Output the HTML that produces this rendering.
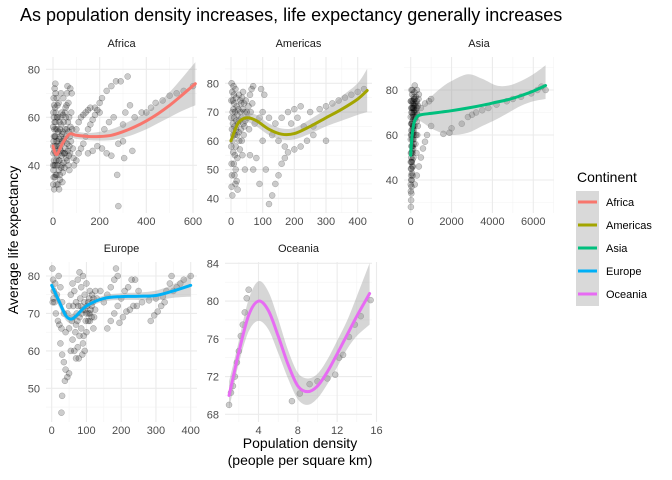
<!DOCTYPE html>
<html><head><meta charset="utf-8"><style>
body{margin:0;background:#fff;}
svg{display:block;font-family:"Liberation Sans",sans-serif;}
</style></head><body>
<svg id="chart" width="672" height="480" viewBox="0 0 672 480">
<text x="20" y="21" font-size="18" fill="#000">As population density increases, life expectancy generally increases</text>
<text transform="translate(18,240) rotate(-90)" text-anchor="middle" font-size="14" fill="#000">Average life expectancy</text>
<text x="300" y="448" text-anchor="middle" font-size="14" fill="#000">Population density</text>
<text x="300" y="465" text-anchor="middle" font-size="14" fill="#000">(people per square km)</text>
<g id="panels"></g>
<g>
<text x="577" y="182" font-size="14" fill="#000">Continent</text>
<rect x="576" y="191" width="23" height="115" fill="#d9d9d9"/>
<g id="legend-entries"></g>
</g>
</svg>
<script>
const continents = ["Africa","Americas","Asia","Europe","Oceania"];
const colors = ["#F8766D","#A3A500","#00BF7D","#00B0F6","#E76BF3"];

const africaPoints = [[5,30],[8,35],[10,40],[12,45],[15,50],[18,55],[20,60],[5,65],[7,72],[10,74],[25,38],[28,42],[30,47],[32,52],[35,57],[38,62],[40,33],[42,37],[45,41],[48,45],[50,50],[52,55],[55,60],[58,65],[60,70],[62,73],[65,40],[68,44],[70,48],[72,52],[75,56],[78,62],[80,70],[3,50],[6,55],[9,48],[14,42],[16,36],[22,32],[26,30],[30,34],[2,45],[4,60],[11,58],[24,66],[34,70],[44,68],[54,64],[66,66],[74,72],[20,50],[30,55],[40,50],[50,45],[60,42],[70,38],[36,44],[46,58],[56,52],[64,58],[2,38],[4,42],[6,46],[8,52],[12,62],[16,68],[18,44],[26,48],[28,58],[38,40],[42,54],[1,32],[1,40],[1,48],[1,56],[2,62],[3,68],[3,35],[4,52],[6,40],[7,58],[9,64],[10,52],[12,36],[13,55],[14,48],[17,60],[19,40],[21,46],[23,54],[24,42],[27,51],[29,36],[31,60],[33,46],[35,39],[37,49],[39,53],[41,45],[43,61],[47,51],[49,39],[51,62],[53,47],[57,43],[59,55],[61,49],[63,46],[67,54],[69,60],[73,45],[77,50],[82,55],[85,47],[88,43],[15,32],[11,70],[19,65],[90,40],[100,42],[110,45],[120,47],[130,49],[140,52],[150,55],[160,57],[170,59],[180,61],[190,63],[200,66],[210,68],[230,71],[250,73],[270,75],[290,75],[320,77],[100,55],[110,58],[120,60],[130,61],[140,62],[150,63],[160,64],[180,64],[200,62],[150,45],[170,46],[190,48],[210,47],[230,45],[250,44],[280,49],[300,57],[310,62],[330,65],[350,60],[380,62],[400,62],[420,64],[440,66],[470,67],[500,69],[530,70],[560,71],[600,73],[275,36],[280,23],[305,43],[340,46],[300,50],[260,60],[240,58],[220,55]];
const americasPoints = [[2,80],[4,77],[6,74],[8,71],[10,68],[3,64],[5,60],[7,56],[9,52],[11,48],[2,44],[4,41],[14,78],[16,75],[18,72],[20,69],[22,66],[24,63],[26,60],[28,57],[12,55],[15,50],[18,46],[21,43],[30,70],[32,73],[35,75],[38,77],[40,62],[42,65],[45,67],[50,70],[55,72],[60,76],[65,78],[70,79],[6,66],[12,62],[25,76],[36,55],[44,50],[10,73],[1,58],[8,79],[1,68],[1,74],[2,52],[3,48],[5,70],[7,62],[9,76],[11,65],[13,70],[15,58],[17,67],[19,62],[20,54],[23,71],[27,67],[29,74],[31,64],[33,68],[34,60],[37,71],[39,66],[41,73],[43,70],[47,74],[52,68],[57,64],[62,70],[67,73],[14,45],[16,64],[60,55],[70,50],[80,54],[90,45],[100,60],[110,50],[120,38],[130,41],[140,45],[150,48],[160,52],[170,54],[180,56],[200,57],[220,58],[240,60],[260,62],[300,60],[75,66],[90,68],[100,70],[120,68],[140,66],[160,68],[180,70],[200,71],[220,72],[250,70],[280,71],[300,72],[320,73],[340,74],[360,75],[380,76],[400,77],[420,78],[105,76],[95,78],[130,62],[150,60],[170,58],[190,66],[210,68],[260,65],[230,65]];
const asiaPoints = [[10,28],[20,31],[30,34],[40,37],[50,40],[60,43],[70,46],[80,49],[90,52],[100,55],[110,58],[120,61],[130,64],[140,67],[150,70],[160,73],[170,76],[180,79],[15,45],[25,50],[35,55],[45,60],[55,65],[65,70],[75,75],[85,80],[5,38],[5,48],[5,58],[5,68],[5,75],[20,42],[40,48],[60,55],[80,62],[100,68],[120,72],[140,75],[160,77],[200,70],[250,68],[300,66],[350,64],[250,77],[300,75],[30,62],[50,72],[70,78],[90,42],[110,46],[130,50],[150,56],[170,60],[190,64],[210,67],[230,56],[260,60],[280,52],[320,60],[10,52],[20,65],[30,72],[40,80],[10,35],[15,60],[25,40],[35,45],[45,52],[55,48],[65,58],[75,53],[85,66],[95,60],[105,74],[115,64],[125,69],[135,58],[145,72],[155,62],[165,68],[175,71],[185,74],[195,76],[220,73],[240,71],[270,74],[290,70],[310,72],[330,69],[360,73],[380,76],[20,75],[40,70],[60,65],[80,72],[100,63],[120,54],[200,38],[300,42],[400,46],[500,50],[600,54],[700,57],[800,60],[1000,64],[1600,60.5],[1900,61],[2000,63],[2500,65],[2800,68],[3000,69],[3200,70],[3500,71],[3800,72],[4200,73.5],[4700,75],[5000,76],[5400,77],[5900,78.5],[6200,80],[6400,81.5],[6600,80],[500,72],[700,74],[900,75],[1000,76],[400,78],[300,80],[200,82]];
const europePoints = [[2,82],[4,79],[6,76],[8,73],[10,78],[15,75],[20,80],[25,77],[30,73],[35,70],[3,73],[5,74],[12,70],[18,68],[22,67],[28,66],[25,62],[30,59],[35,57],[40,55],[45,53],[50,54],[30,48],[28,43.5],[38,52],[40,65],[45,70],[50,72],[55,75],[60,78],[65,76],[70,73],[75,79],[80,81],[85,77],[90,80],[95,75],[100,78],[105,73],[110,76],[115,72],[120,74],[125,71],[60,63],[65,60],[70,58],[75,61],[80,64],[85,66],[90,62],[95,60],[100,65],[105,68],[110,70],[115,69],[120,66],[70,67],[80,69],[90,71],[100,70],[110,68],[50,66],[55,60],[60,69],[78,58],[92,64],[88,59],[72,70],[76,72],[82,74],[86,70],[94,73],[98,68],[102,72],[108,74],[112,71],[118,73],[122,69],[68,65],[74,68],[84,72],[96,71],[106,70],[116,75],[126,76],[62,72],[58,68],[130,74],[140,76],[150,73],[160,75],[170,77],[180,79],[185,82],[190,80],[160,66],[170,68],[180,70],[190,72],[200,74],[210,76],[220,77],[230,79],[240,79],[250,76],[195,67.5],[205,69],[215,70.5],[225,71],[235,72],[245,72],[260,73],[280,73.5],[300,74],[320,74.5],[330,76],[340,78],[345,80],[285,68],[295,69.5],[305,70.5],[315,72],[325,73],[350,76],[360,77],[370,78],[380,79],[400,80]];
const oceaniaPoints = [[1,69],[1.2,70.3],[1.4,71],[1.6,72],[1.8,73.5],[2,74.7],[2.2,76.3],[2.4,77.5],[2.6,78.8],[2.8,80.3],[3,81.2],[7.4,69.4],[8.2,70.2],[9.2,71.2],[10,71.5],[11,71.8],[11.8,72.2],[12.2,74],[12.6,74.3],[13.2,76.2],[13.8,77.5],[14.4,78.4],[15.4,80.1]];

// smooth: [x, fit, lower, upper]
const africaSmooth = [[0,48,45,51],[10,45,43,47.5],[20,44.8,43,47],[40,49,47.5,51],[70,53,51.5,54.5],[100,52.5,51,54],[150,52,50.5,53.5],[200,52,50.3,54],[250,52.5,50.5,55],[300,54,51.5,57],[350,56,53,59.5],[400,58.5,55,62],[450,61.5,57.5,66],[500,65,60,70.5],[550,69,62.5,76],[610,74,65,83]];
const americasSmooth = [[0,60,56,64],[10,63,61,65.5],[25,66.5,65,68],[50,68,66.5,69.5],[80,67,65,69],[120,64,62,66],[160,62.3,60.5,64.3],[200,62.5,60.5,64.5],[250,65,62.5,67.5],[300,68,65,71],[350,71,67,75.5],[400,74.5,69,80],[430,77.5,70,85]];
const asiaSmooth = [[0,51,47,55],[50,58,55,61],[150,65,63,67],[300,68,66,70],[500,69,66,72],[1000,69.6,63,77],[1500,70.2,61,81],[2000,70.8,60,84],[2800,72,61,87],[3500,73.2,64,85],[4200,74.6,67,82],[4800,75.8,70,82],[5400,77.5,73,84],[6000,79.5,75,87],[6600,82,76,91]];
const europeSmooth = [[0,77.5,75.5,79.5],[20,73.5,72,75],[40,69.5,68.3,70.7],[55,68.5,67.5,69.5],[70,69.3,68.5,70.1],[100,72,71.3,72.7],[150,74,73.2,74.8],[200,74.5,73.6,75.4],[250,74.6,73.6,75.6],[300,74.8,73.5,76.1],[350,76,74.2,77.8],[400,77.5,74.5,80.5]];
const oceaniaSmooth = [[1,70,68.5,71.5],[1.5,72.3,71,73.6],[2,74.6,73.4,75.8],[3,78.5,76.8,80.2],[4,80,77.9,82.1],[5,79,77,81],[6,76.3,74.5,78.1],[7,73.3,71.8,74.8],[8,71,69.6,72.4],[9,70.4,69,71.8],[10,71,69.7,72.3],[11,72.5,71.2,73.8],[12,74.4,73,75.8],[13,76.4,74.9,77.9],[14,78.4,76.3,80.5],[15.3,80.8,77.5,84]];

const africaXTicks = [0,200,400,600], africaYTicks = [40,60,80];
const americasXTicks = [0,100,200,300,400], americasYTicks = [40,50,60,70,80];
const asiaXTicks = [0,2000,4000,6000], asiaYTicks = [40,60,80];
const europeXTicks = [0,100,200,300,400], europeYTicks = [50,60,70,80];
const oceaniaXTicks = [4,8,12,16], oceaniaYTicks = [68,72,76,80,84];

const NS = "http://www.w3.org/2000/svg";
function mk(tag, attrs, parent){ const e=document.createElementNS(NS,tag); for(const k in attrs) e.setAttribute(k,attrs[k]); parent.appendChild(e); return e; }
function curve(pts, move){ // Catmull-Rom to bezier
  let d = (move?"M":"L")+pts[0][0]+","+pts[0][1];
  for(let i=0;i<pts.length-1;i++){
    const p0=pts[Math.max(0,i-1)], p1=pts[i], p2=pts[i+1], p3=pts[Math.min(pts.length-1,i+2)];
    const c1=[p1[0]+(p2[0]-p0[0])/6, p1[1]+(p2[1]-p0[1])/6];
    const c2=[p2[0]-(p3[0]-p1[0])/6, p2[1]-(p3[1]-p1[1])/6];
    d+=" C"+c1[0]+","+c1[1]+" "+c2[0]+","+c2[1]+" "+p2[0]+","+p2[1];
  }
  return d;
}

const panelDefs = [
 {name:"africa", pts:africaPoints, sm:africaSmooth, xt:africaXTicks, yt:africaYTicks, box:[46,57,197,213], x0:53, xk:140/600, y0:69.3, yv:80, yk:2.4},
 {name:"americas", pts:americasPoints, sm:americasSmooth, xt:americasXTicks, yt:americasYTicks, box:[225,57,372,213], x0:231, xk:95/300, y0:83.3, yv:80, yk:2.875},
 {name:"asia", pts:asiaPoints, sm:asiaSmooth, xt:asiaXTicks, yt:asiaYTicks, box:[404,57,554,213], x0:410.7, xk:122.6/6000, y0:90, yv:80, yk:2.25},
 {name:"europe", pts:europePoints, sm:europeSmooth, xt:europeXTicks, yt:europeYTicks, box:[46,262,197,422], x0:51.7, xk:139/400, y0:276, yv:80, yk:3.745},
 {name:"oceania", pts:oceaniaPoints, sm:oceaniaSmooth, xt:oceaniaXTicks, yt:oceaniaYTicks, box:[225,262,372,422], x0:219.2, xk:9.83, y0:263.3, yv:84, yk:9.44}
];
const titles = ["Africa","Americas","Asia","Europe","Oceania"];
const root = document.getElementById("panels");

panelDefs.forEach((p,i)=>{
  const sx = v => p.x0 + v*p.xk;
  const sy = v => p.y0 + (p.yv - v)*p.yk;
  const [L,T,R,B] = p.box;
  const g = mk("g",{},root);
  
  
  const st = mk("text",{x:(L+R)/2,y:T-10,"text-anchor":"middle","font-size":"11",fill:"#1a1a1a"},g);
  st.textContent = titles[i];
  
  
  const xs = p.xt, ys = p.yt;
  const dx = xs[1]-xs[0], dy = ys[1]-ys[0];
  for(let v=xs[0]-dx/2; v<=xs[xs.length-1]+dx/2; v+=dx){ const X=sx(v); if(X>L&&X<R){ const l=mk("line",{x1:X,x2:X,y1:T,y2:B,stroke:"#f3f3f3","stroke-width":0.6},g);   } }
  for(let v=ys[0]-dy/2; v<=ys[ys.length-1]+dy/2; v+=dy){ const Y=sy(v); if(Y>T&&Y<B){ const l=mk("line",{x1:L,x2:R,y1:Y,y2:Y,stroke:"#f3f3f3","stroke-width":0.6},g);   } }
  xs.forEach(v=>{ const X=sx(v);
    const l=mk("line",{x1:X,x2:X,y1:T,y2:B,stroke:"#ebebeb","stroke-width":1.1},g);
     
    const t=mk("text",{x:X,y:B+12,"text-anchor":"middle","font-size":"11",fill:"#4d4d4d"},g); t.textContent=v;
      });
  ys.forEach(v=>{ const Y=sy(v);
    const l=mk("line",{x1:L,x2:R,y1:Y,y2:Y,stroke:"#ebebeb","stroke-width":1.1},g);
     
    const t=mk("text",{x:L-6,y:Y+4,"text-anchor":"end","font-size":"11",fill:"#4d4d4d"},g); t.textContent=v;
      });
  p.pts.forEach(d=>{
    const c=mk("circle",{cx:sx(d[0]),cy:sy(d[1]),r:3,fill:"rgba(0,0,0,0.2)",stroke:"rgba(0,0,0,0.3)","stroke-width":0.5},g);
     
  });
  const upP = p.sm.map(d=>[sx(d[0]),sy(d[3])]);
  const loP = p.sm.slice().reverse().map(d=>[sx(d[0]),sy(d[2])]);
  const rb = mk("path",{d:curve(upP,true)+" "+curve(loP,false)+" Z",fill:"rgba(153,153,153,0.4)"},g);
   
  const ln = mk("path",{d:curve(p.sm.map(d=>[sx(d[0]),sy(d[1])]),true),fill:"none",stroke:colors[i],"stroke-width":3,"stroke-linejoin":"round","stroke-linecap":"round"},g);
   
});

const lg = document.getElementById("legend-entries");
continents.forEach((c,i)=>{
  const y = 202 + i*23;
  const g = mk("g",{},lg);
  
  
  mk("line",{x1:578,x2:597,y1:y,y2:y,stroke:colors[i],"stroke-width":3},g);
  const t = mk("text",{x:606,y:y+4,"font-size":"11",fill:"#000"},g); t.textContent=c;
});
</script>
</body></html>
